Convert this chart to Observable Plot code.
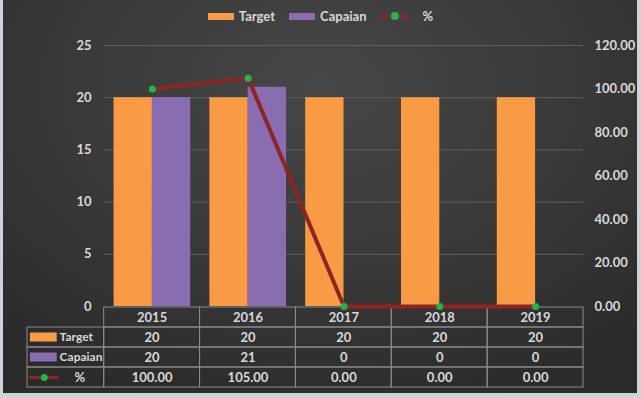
<!DOCTYPE html>
<html><head><meta charset="utf-8">
<script src="https://cdn.jsdelivr.net/npm/d3@7"></script>
<script src="https://cdn.jsdelivr.net/npm/@observablehq/plot@0.6"></script>
<style>
body{margin:0;background:#cfd3d8;}
#wrap{position:relative;width:641px;height:398px;overflow:hidden;background:#cfd3d8;font-family:Lato,"Open Sans",sans-serif;}
#bg{position:absolute;left:3px;top:0;width:634px;height:393px;background:radial-gradient(ellipse 75% 85% at 50% 22%, #474747 0%, #3b3b3b 45%, #2b2b2b 100%);}
.layer{position:absolute;left:0;}
#legend{position:absolute;top:8px;left:0;width:641px;display:flex;justify-content:center;align-items:center;gap:14px;color:#d9d9d9;font-size:13px;font-weight:bold;}
.item{display:flex;align-items:center;gap:5px;}
.sw{width:26px;height:7px;display:inline-block;}
.ln{position:relative;width:30px;height:8px;display:inline-block;}
.ln:before{content:"";position:absolute;left:0;right:0;top:2.5px;height:3px;background:#8e2424;}
.ln:after{content:"";position:absolute;left:11px;top:0;width:8px;height:8px;border-radius:50%;background:#20b64a;}
</style></head>
<body>
<div id="wrap"><div id="bg"></div></div>
<script>
const years = ["2015","2016","2017","2018","2019"];
const target = [20,20,20,20,20];
const capaian = [20,21,0,0,0];
const pct = [100,105,0,0,0];
const leftTicks = [0,5,10,15,20,25];
const rightTicks = [0,20,40,60,80,100,120];
const seriesNames = ["Target","Capaian","%"];

const ORANGE = "#f99b45", PURPLE = "#8a6cb0", RED = "#8e2424", GREEN = "#20b64a", TXT = "#d9d9d9", GRID = "#8c8c8c";
const k = 25/120;
const data = years.map((y,i)=>({year:y, i, t:target[i], c:capaian[i], p:pct[i]}));
const font = {background:"transparent", color:TXT, fontFamily:"Lato, 'Open Sans', sans-serif", fontSize:"13px", fontWeight:"bold", overflow:"visible"};
const wrap = document.getElementById("wrap");

// ---- data table ----
const rowKeys = ["yr", ...seriesNames];
const cells = [];
rowKeys.forEach(r => years.forEach((y,i)=>cells.push({r, x1:i, x2:i+1})));
seriesNames.forEach(r => cells.push({r, x1:-0.8, x2:0}));
const texts = [];
data.forEach(d=>{
  texts.push({r:"yr", i:d.i, s:d.year});
  texts.push({r:"Target", i:d.i, s:String(d.t)});
  texts.push({r:"Capaian", i:d.i, s:String(d.c)});
  texts.push({r:"%", i:d.i, s:d.p.toFixed(2)});
});
const table = Plot.plot({
  width:641, height:98, marginTop:6, marginBottom:10, marginLeft:27, marginRight:58,
  style:font,
  x:{domain:[-0.8,5], axis:null},
  y:{domain:rowKeys, axis:null, padding:0},
  marks:[
    Plot.barX(cells, {x1:"x1", x2:"x2", y:"r", fill:"none", stroke:GRID, strokeWidth:1}),
    Plot.text(texts, {x:d=>d.i+0.5, y:"r", text:"s", fill:TXT}),
    Plot.barX(["Target"], {x1:()=>-0.77, x2:()=>-0.49, y:d=>d, fill:ORANGE, insetTop:5.5, insetBottom:5.5}),
    Plot.barX(["Capaian"], {x1:()=>-0.77, x2:()=>-0.49, y:d=>d, fill:PURPLE, insetTop:5.5, insetBottom:5.5}),
    Plot.ruleY(["%"], {y:d=>d, x1:()=>-0.78, x2:()=>-0.47, stroke:RED, strokeWidth:3}),
    Plot.dot(["%"], {y:d=>d, x:()=>-0.625, r:3.5, fill:GREEN}),
    Plot.text(["Target","Capaian"], {y:d=>d, x:()=>-0.465, text:d=>d, textAnchor:"start", fill:TXT, fontSize:12}),
    Plot.text(["%"], {y:d=>d, x:()=>-0.31, text:d=>d, textAnchor:"start", fill:TXT})
  ]
});
table.classList.add("layer"); table.style.top = "300px";
wrap.appendChild(table);

// ---- main chart ----
const chart = Plot.plot({
  width:641, height:320, marginTop:45, marginBottom:14, marginLeft:104, marginRight:58,
  style:font,
  x:{domain:[0,5], axis:null},
  y:{domain:[0,25], ticks:leftTicks, tickSize:0, tickPadding:13, label:null, tickFormat:d=>String(d)},
  marks:[
    Plot.ruleY(leftTicks.filter(t=>t>0), {y:d=>d, x1:()=>0, x2:()=>5, stroke:"#5e5e5e", strokeWidth:1}),
    Plot.rectY(data, {x1:d=>d.i+0.1, x2:d=>d.i+0.5, y:"t", fill:ORANGE}),
    Plot.rectY(data, {x1:d=>d.i+0.5, x2:d=>d.i+0.9, y:"c", fill:PURPLE}),
    Plot.line(data, {x:d=>d.i+0.5, y:d=>d.p*k, stroke:RED, strokeWidth:4}),
    Plot.dot(data, {x:d=>d.i+0.5, y:d=>d.p*k, r:3.5, fill:GREEN}),
    Plot.text(rightTicks, {y:d=>d*k, text:d=>d.toFixed(2), frameAnchor:"right", textAnchor:"start", dx:11, fill:TXT})
  ]
});
chart.classList.add("layer"); chart.style.top = "0px";
wrap.appendChild(chart);

// ---- legend ----
const leg = document.createElement("div");
leg.id = "legend";
const colors = {"Target":ORANGE, "Capaian":PURPLE};
seriesNames.forEach(n=>{
  const it = document.createElement("div"); it.className="item";
  const sw = document.createElement("span");
  if (n === "%") { sw.className = "ln"; } else { sw.className="sw"; sw.style.background = colors[n]; }
  it.appendChild(sw);
  if (n === "%") it.style.gap = "12px";
  const t = document.createElement("span"); t.textContent = n; it.appendChild(t);
  leg.appendChild(it);
});
wrap.appendChild(leg);
</script>
</body></html>
